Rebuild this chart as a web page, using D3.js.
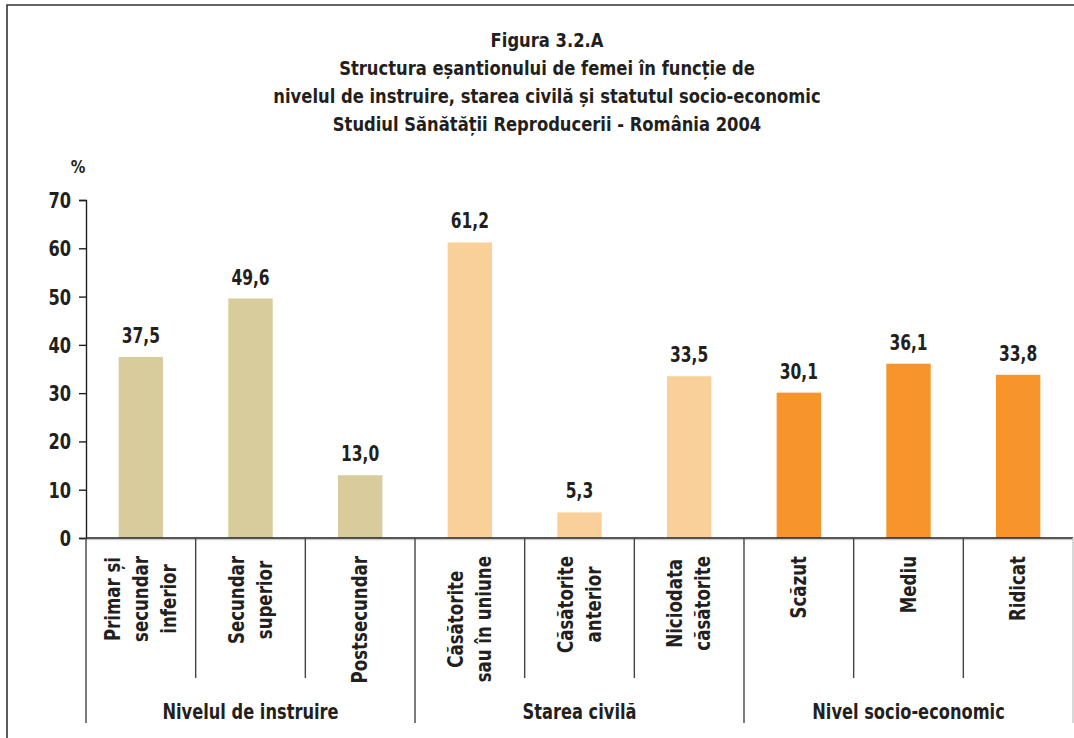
<!DOCTYPE html>
<html><head><meta charset="utf-8">
<script src="https://cdn.jsdelivr.net/npm/d3@7"></script>
<style>
html,body{margin:0;padding:0;background:#fff;}
svg text{font-family:"Liberation Sans Narrow","DejaVu Sans Condensed","Roboto Condensed",sans-serif;font-weight:bold;fill:#231f20;}
</style></head>
<body><svg id="c" width="1074" height="738"></svg>
<script>
const titleLines = ["Figura 3.2.A","Structura eșantionului de femei în funcție de","nivelul de instruire, starea civilă și statutul socio-economic","Studiul Sănătății Reproducerii - România 2004"];
const categories = ["Primar și secundar inferior","Secundar superior","Postsecundar","Căsătorite sau în uniune","Căsătorite anterior","Niciodata căsătorite","Scăzut","Mediu","Ridicat"];
const categoryLines = [["Primar și","secundar","inferior"],["Secundar","superior"],["Postsecundar"],["Căsătorite","sau în uniune"],["Căsătorite","anterior"],["Niciodata","căsătorite"],["Scăzut"],["Mediu"],["Ridicat"]];
const values = [37.5,49.6,13.0,61.2,5.3,33.5,30.1,36.1,33.8];
const valueLabels = ["37,5","49,6","13,0","61,2","5,3","33,5","30,1","36,1","33,8"];
const groups = ["Nivelul de instruire","Starea civilă","Nivel socio-economic"];
const groupOf = [0,0,0,1,1,1,2,2,2];
const groupColors = ["#d8cb9c","#fad09a","#f7942b"];
const yTicks = [0,10,20,30,40,50,60,70];

const svg = d3.select("#c");
const ink = "#231f20";

function label(parent, px, py, txt, size, sx, anchor, rot){
  return parent.append("text")
    .attr("transform",`translate(${px},${py})${rot?" rotate(-90)":""} scale(${sx},1)`)
    .attr("text-anchor",anchor||"middle").style("font-size",size+"px").text(txt);
}

// frame
svg.append("path").attr("d","M7,738 V5 H1074").attr("fill","none").attr("stroke","#333").attr("stroke-width",1.6);

// title
titleLines.forEach((t,i)=>label(svg,547,47+i*28,t,20,0.91));

const x = d3.scaleBand().domain(categories).range([86,1073]).padding(0);
const y = d3.scaleLinear().domain([0,70]).range([538,200]);
const bw = x.bandwidth()*0.405;
const gx = d3.scaleBand().domain(groups).range([86,1073]).padding(0);

// y axis
const yAxis = svg.append("g").attr("transform","translate(86,0)")
  .call(d3.axisLeft(y).tickValues(yTicks).tickSize(7).tickFormat(""));
yAxis.select(".domain").attr("stroke",ink).attr("stroke-width",1.4);
yAxis.selectAll(".tick line").attr("stroke",ink).attr("stroke-width",1.4);
yTicks.forEach(t=>label(svg,71,y(t)+8,String(t),22,0.82,"end"));

label(svg,78,173,"%",18,0.9);

// bars
svg.selectAll(".bar").data(values).enter().append("rect")
  .attr("x",(d,i)=>x(categories[i])+(x.bandwidth()-bw)/2)
  .attr("y",d=>y(d)).attr("width",bw).attr("height",d=>y(0)-y(d))
  .attr("fill",(d,i)=>groupColors[groupOf[i]]);

// value labels
values.forEach((v,i)=>label(svg,x(categories[i])+x.bandwidth()/2,y(v)-14,valueLabels[i],21,0.82));

// x axis line
svg.append("line").attr("x1",86).attr("x2",1073).attr("y1",539.5).attr("y2",539.5).attr("stroke","#ccc").attr("stroke-width",1.5);
svg.append("line").attr("x1",86).attr("x2",1073).attr("y1",538).attr("y2",538).attr("stroke",ink).attr("stroke-width",1.4);

// category dividers
const bounds = categories.map(c=>x(c)).concat([x.range()[1]]);
bounds.forEach((b,i)=>{
  const isGroup = (i%3===0);
  svg.append("line").attr("x1",b).attr("x2",b).attr("y1",538)
    .attr("y2", isGroup?723:678)
    .attr("stroke", i===9?"#c8c8c8":"#444").attr("stroke-width",1.4);
});

// category labels (rotated, centered lines, block top at 556)
const sxCat = 0.88;
categories.forEach((c,i)=>{
  const lines = categoryLines[i];
  const cx = x(c)+x.bandwidth()/2;
  const g = svg.append("g");
  const texts = lines.map(l=>g.append("text").style("font-size","21px").attr("text-anchor","middle").text(l));
  const maxLen = d3.max(texts, t=>t.node().getComputedTextLength())*sxCat;
  const cy = 556 + maxLen/2;
  const lh = 28;
  texts.forEach((t,j)=>{
    const off = (j-(lines.length-1)/2)*lh;
    t.attr("transform",`translate(${cx+off+7},${cy}) rotate(-90) scale(${sxCat},1)`);
  });
});

// group labels
groups.forEach(gname=>label(svg,gx(gname)+gx.bandwidth()/2,719,gname,21,0.86));
</script></body></html>
